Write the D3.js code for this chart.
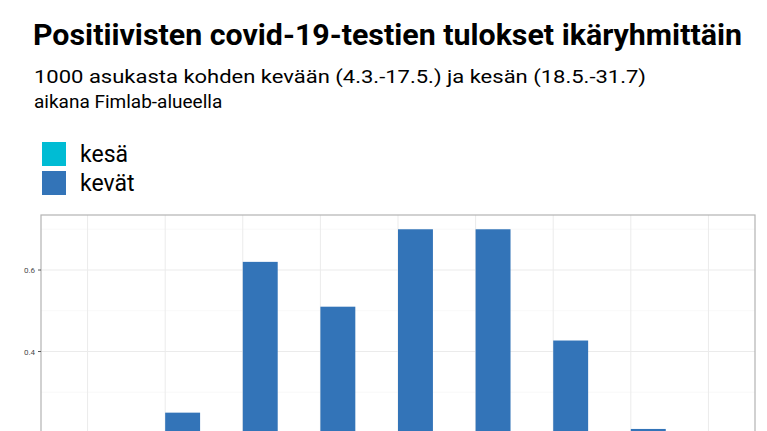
<!DOCTYPE html><html><head><meta charset="utf-8"><script src="https://cdn.jsdelivr.net/npm/d3@7"></script>
<style>body{margin:0;background:#fff}</style></head><body><svg id="c" width="767" height="431"></svg>
<script>
const categories=["0-9","10-19","20-29","30-39","40-49","50-59","60-69","70-79","80+"];
const kesa=[0.03,0.08,0.12,0.09,0.07,0.06,0.04,0.02,0.01];
const kevat=[0.12,0.25,0.62,0.51,0.70,0.70,0.427,0.21,0.12];
const yTicks=[0,0.2,0.4,0.6];
const svg=d3.select("#c");
const L=41,R=755,T=215;
const y=d3.scaleLinear().domain([-0.035,0.735]).range([528.8,T]);
const x=d3.scaleBand().domain(categories).range([L,R]).paddingInner(1-0.9).paddingOuter(0.5*0.0+0.1);
// ggplot-like: centers at L+ (i+0.6)*step
const step=(R-L)/9.2;
const cx=i=>L+(i+0.6)*step;
const bw=0.45*step;
const g=svg.append("g");
g.append("rect").attr("x",L).attr("y",T).attr("width",R-L).attr("height",600).attr("fill","#fff");
// grid
d3.range(-0.1,0.75,0.1).forEach(v=>{const mj=yTicks.some(t=>Math.abs(t-v)<1e-6);
 g.append("line").attr("x1",L).attr("x2",R).attr("y1",y(v)).attr("y2",y(v)).attr("stroke",mj?"#ebebeb":"#f4f4f4").attr("stroke-width",mj?1:0.6);});
categories.forEach((c,i)=>g.append("line").attr("x1",cx(i)).attr("x2",cx(i)).attr("y1",T).attr("y2",600).attr("stroke","#ebebeb"));
g.selectAll(".k").data(kesa).join("rect").attr("x",(d,i)=>cx(i)-bw).attr("width",bw).attr("y",d=>y(d)).attr("height",d=>y(0)-y(d)).attr("fill","#00BCD4");
g.selectAll(".v").data(kevat).join("rect").attr("x",(d,i)=>cx(i)).attr("width",bw).attr("y",d=>y(d)).attr("height",d=>y(0)-y(d)).attr("fill","#3374B8");
g.append("rect").attr("x",L).attr("y",T).attr("width",R-L).attr("height",600).attr("fill","none").attr("stroke","#b3b3b3").attr("stroke-width",1.2);
yTicks.forEach(t=>{g.append("line").attr("x1",L-3).attr("x2",L).attr("y1",y(t)).attr("y2",y(t)).attr("stroke","#555");
 g.append("text").attr("x",L-6).attr("y",y(t)+3).attr("text-anchor","end").attr("font-family","Roboto").attr("font-size",8).attr("fill","#4d4d4d").text(t===0?"0.0":t.toString());});
svg.append("text").attr("x",33).attr("y",45).attr("font-family","Roboto").attr("font-weight","bold").attr("font-size",29).attr("textLength",709).attr("lengthAdjust","spacingAndGlyphs").text("Positiivisten covid-19-testien tulokset ikäryhmittäin");
svg.append("text").attr("x",34).attr("y",83).attr("font-family","Roboto").attr("font-size",19).attr("textLength",612).attr("lengthAdjust","spacingAndGlyphs").text("1000 asukasta kohden kevään (4.3.-17.5.) ja kesän (18.5.-31.7)");
svg.append("text").attr("x",34).attr("y",108).attr("font-family","Roboto").attr("font-size",19).text("aikana Fimlab-alueella");
[["kesä","#00BCD4",142],["kevät","#3374B8",171]].forEach(([n,c,yy])=>{
 svg.append("rect").attr("x",42).attr("y",yy).attr("width",24).attr("height",24).attr("fill",c);
 svg.append("text").attr("x",80).attr("y",yy+20).attr("font-family","Roboto").attr("font-size",23).text(n);});
</script></body></html>
